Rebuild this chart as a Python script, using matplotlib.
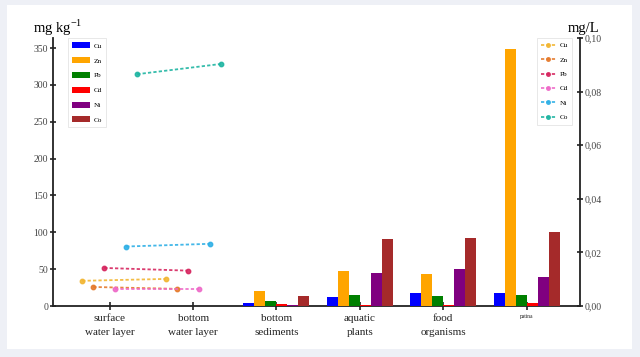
import matplotlib
matplotlib.use("Agg")
import matplotlib.pyplot as plt
from matplotlib.patches import Rectangle
from matplotlib.ticker import FuncFormatter
import numpy as np

plt.rcParams['font.family'] = ['Liberation Serif', 'DejaVu Serif']

categories = ["surface\nwater layer", "bottom\nwater layer", "bottom\nsediments",
              "aquatic\nplants", "food\norganisms", "patina"]
metals = ["Cu", "Zn", "Pb", "Cd", "Ni", "Co"]

# bars (mg kg-1) for bottom sediments, aquatic plants, food organisms, patina
bar_cu = [4, 12, 18, 18]
bar_zn = [20, 47, 43, 348]
bar_pb = [6.5, 15.5, 14, 15]
bar_cd = [3, 0.8, 0.8, 3.5]
bar_ni = [0.8, 45, 50, 39]
bar_co = [13, 91, 92, 101]

# lines (mg/L) for surface and bottom water layer
line_cu = [0.0094, 0.0101]
line_zn = [0.0071, 0.0064]
line_pb = [0.0142, 0.0132]
line_cd = [0.0063, 0.0063]
line_ni = [0.0222, 0.0232]
line_co = [0.0865, 0.0903]

bar_colors = ["#0000ff", "#ffa500", "#008000", "#ff0000", "#800080", "#a52a2a"]
line_colors = ["#f2b632", "#e57a2c", "#d6265f", "#ee6ac8", "#2fb0e6", "#1fb5a2"]

fig = plt.figure(figsize=(6.4, 3.57), dpi=100)
fig.patch.set_facecolor("#eef0f6")
fig.patches.append(Rectangle((7/640, 1-349/357), (632-7)/640, (349-5)/357,
                             transform=fig.transFigure, facecolor="white",
                             edgecolor="none", zorder=-10))

ax = fig.add_axes([53/640, 1-306/357, (580-53)/640, (306-38)/357])
ax.set_facecolor("none")
ax2 = ax.twinx()

w = 0.132
bars = [bar_cu, bar_zn, bar_pb, bar_cd, bar_ni, bar_co]
lines = [line_cu, line_zn, line_pb, line_cd, line_ni, line_co]
bx = np.arange(2, 6)
lx = np.arange(0, 2)
bar_handles = []
for k in range(6):
    off = (k - 2.5) * w
    h = ax.bar(bx + off, bars[k], width=w, color=bar_colors[k], label=metals[k], zorder=3)
    bar_handles.append(h)
line_handles = []
for k in range(6):
    off = (k - 2.5) * w
    l, = ax2.plot(lx + off, lines[k], color=line_colors[k], linestyle=(0, (1.8, 1.2)),
                  linewidth=1.3, marker="o", markersize=3.2, label=metals[k], alpha=0.9)
    line_handles.append(l)

ax.set_xlim(-0.68, 5.64)
ax.set_ylim(0, 363.6)
ax2.set_ylim(0, 0.10)
ax.set_yticks([0, 50, 100, 150, 200, 250, 300, 350])
ax2.set_yticks([0, 0.02, 0.04, 0.06, 0.08, 0.10])
ax2.yaxis.set_major_formatter(FuncFormatter(lambda v, p: f"{v:.2f}".replace(".", ",")))
ax.set_xticks(range(6))
ax.set_xticklabels(categories, fontsize=8, linespacing=1.7)
ax.get_xticklabels()[5].set_fontsize(4)

for a in (ax, ax2):
    a.spines["top"].set_visible(False)
    for s in a.spines.values():
        s.set_linewidth(1.3)
        s.set_color("#222222")
ax.spines["right"].set_visible(False)
ax2.spines["left"].set_visible(False)
ax2.spines["bottom"].set_visible(False)
ax.tick_params(axis="y", direction="inout", length=5, width=1.2, labelsize=7, pad=1, colors="#222222")
ax.tick_params(axis="x", direction="inout", length=6, width=1.2, pad=3, colors="#222222")
ax2.tick_params(axis="y", direction="inout", length=5, width=1.2, labelsize=7, pad=1, colors="#222222")
for t in ax.get_yticklabels() + ax2.get_yticklabels():
    t.set_color("#444444")

fig.text(33/640, 1-33/357, "mg kg$^{\\mathregular{-1}}$", fontsize=10.5, ha="left", va="baseline")
fig.text(568/640, 1-32/357, "mg/L", fontsize=10.5, ha="left", va="baseline")

leg1 = ax.legend(handles=bar_handles, loc="upper left", bbox_to_anchor=(15/527, 1.0),
                 borderaxespad=0.0,
                 fontsize=5.2, frameon=True, fancybox=False, handlelength=2.4, handleheight=0.9,
                 labelspacing=1.15, borderpad=0.6, handletextpad=0.5)
leg1.get_frame().set_edgecolor("#dddddd")
leg1.get_frame().set_linewidth(0.6)
leg2 = ax2.legend(handles=line_handles, loc="upper right", bbox_to_anchor=(1-8/527, 1.0),
                  borderaxespad=0.0,
                  fontsize=5.2, frameon=True, fancybox=False, handlelength=2.0,
                  labelspacing=1.15, borderpad=0.6, handletextpad=0.5, markerscale=0.8)
leg2.get_frame().set_edgecolor("#dddddd")
leg2.get_frame().set_linewidth(0.6)

fig.savefig("out.png", dpi=100, facecolor=fig.get_facecolor())
